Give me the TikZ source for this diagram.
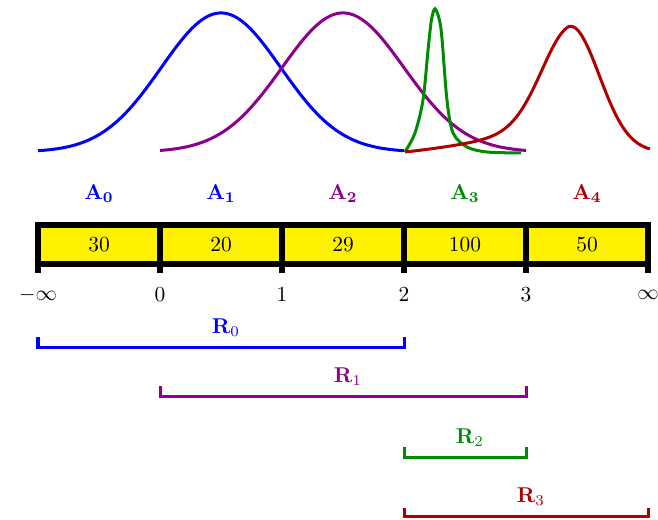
\documentclass[tikz,border=0pt]{standalone}
\usepackage{amsmath}
\definecolor{bktblue}{RGB}{0,0,255}
\definecolor{bktpurple}{RGB}{140,0,140}
\definecolor{bktgreen}{RGB}{0,140,0}
\definecolor{bktred}{RGB}{175,0,0}
\tikzset{
  cell/.style={draw,fill=yellow,line width=2.6pt,minimum width=2cm,minimum height=0.64cm,inner sep=0pt,outer sep=0pt},
  tickmark/.style={line width=2.6pt},
  bell/.style={line width=1.4pt},
  bracket/.style={line width=1.4pt}
}
\begin{document}
\begin{tikzpicture}[x=2cm,y=2cm]
  \useasboundingbox (-1.3115,0) rectangle (4.082,4.262);
  % densities
  \draw[bell,bktblue] plot[domain=-1:2,samples=60,smooth] (\x,{3.016+1.14*exp(0-((\x-0.5)^2)/0.4802)});
  \draw[bell,bktpurple] plot[domain=0:3,samples=60,smooth] (\x,{3.016+1.14*exp(0-((\x-1.5)^2)/0.5)});
  \draw[bell,bktgreen] plot[smooth] coordinates {(2.008,3.016) (2.090,3.172) (2.156,3.443) (2.197,3.852) (2.225,4.10) (2.254,4.19) (2.290,4.10) (2.311,3.95) (2.352,3.443) (2.402,3.172) (2.516,3.057) (2.680,3.016) (2.959,3.008)};
  \draw[bell,bktred] plot[domain=2.008:4.016,samples=80,smooth]
    (\x,{3.016+1.033*((\x<3.361) ? (0.7*exp(0-((\x-3.361)^2)/0.1105)+0.3*(exp(0-(3.361-\x))-0.258)/0.742) : (exp(0-((\x-3.361)^2)/0.1152)))});
  % buckets
  \foreach \i/\c in {0/bktblue,1/bktblue,2/bktpurple,3/bktgreen,4/bktred}
    \node[text=\c] (a\i) at (\i-0.5,2.672) {$\mathbf{A_{\i}}$};
  \foreach \i/\n in {0/30,1/20,2/29,3/100,4/50}
    \node[cell] (c\i) at (\i-0.5,2.258) {\n};
  \foreach \i in {0,...,4}
    \draw[tickmark] (c\i.south west) -- ++(0,-0.073);
  \draw[tickmark] (c4.south east) -- ++(0,-0.073);
  \foreach \i/\t in {-1/-\infty,0/0,1/1,2/2,3/3,4/\infty}
    \node (t\i) at (\i,1.844) {$\t$};
  % ranges
  \foreach \i/\a/\b/\y/\h/\c in {0/-1/2/1.41/0.09/bktblue,1/0/3/1.008/0.09/bktpurple,2/2/3/0.508/0.09/bktgreen,3/2/4/0.025/0.07/bktred} {
    \draw[bracket,\c] (\a,\y+\h) |- (\b,\y) -- (\b,\y+\h);
    \node[text=\c] (r\i) at ({(\a+\b)/2+0.04},\y+0.165) {$\mathbf{R}_{\i}$};
  }
\end{tikzpicture}
\end{document}
